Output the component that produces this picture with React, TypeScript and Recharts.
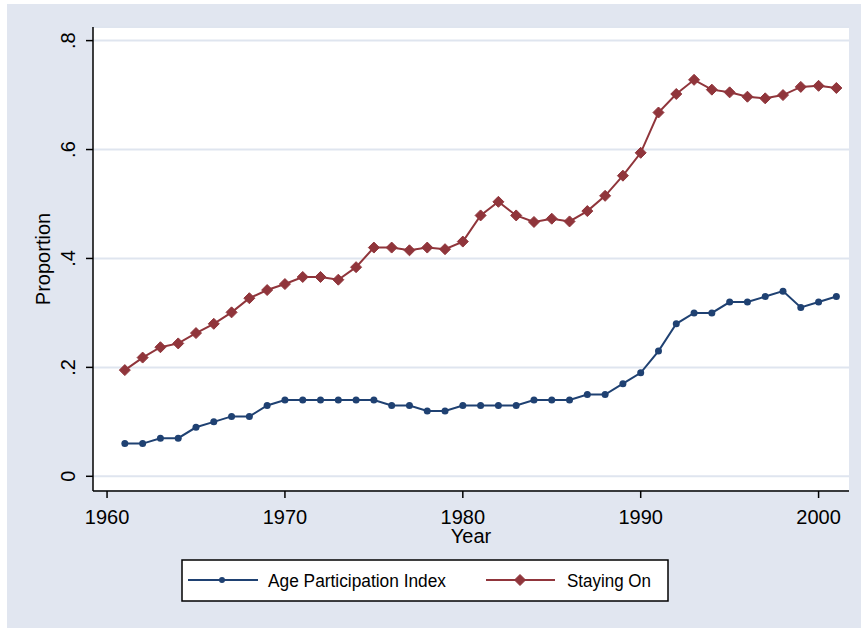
import { CartesianGrid, Line, LineChart, XAxis, YAxis } from "recharts";

const YEARS = [
  1961, 1962, 1963, 1964, 1965, 1966, 1967, 1968, 1969, 1970, 1971, 1972, 1973,
  1974, 1975, 1976, 1977, 1978, 1979, 1980, 1981, 1982, 1983, 1984, 1985, 1986,
  1987, 1988, 1989, 1990, 1991, 1992, 1993, 1994, 1995, 1996, 1997, 1998, 1999,
  2000, 2001,
];

const API = [
  0.06, 0.06, 0.07, 0.07, 0.09, 0.1, 0.11, 0.11, 0.13, 0.14, 0.14, 0.14, 0.14,
  0.14, 0.14, 0.13, 0.13, 0.12, 0.12, 0.13, 0.13, 0.13, 0.13, 0.14, 0.14, 0.14,
  0.15, 0.15, 0.17, 0.19, 0.23, 0.28, 0.3, 0.3, 0.32, 0.32, 0.33, 0.34, 0.31,
  0.32, 0.33,
];

const STAYING_ON = [
  0.195, 0.218, 0.237, 0.244, 0.263, 0.28, 0.301, 0.327, 0.342, 0.353, 0.366,
  0.366, 0.361, 0.384, 0.42, 0.42, 0.415, 0.42, 0.417, 0.431, 0.479, 0.504,
  0.479, 0.467, 0.473, 0.468, 0.487, 0.515, 0.552, 0.594, 0.668, 0.702, 0.728,
  0.71, 0.705, 0.697, 0.694, 0.7, 0.715, 0.717, 0.713,
];

const X_TICKS = [1960, 1970, 1980, 1990, 2000];
const Y_TICKS = [0, 0.2, 0.4, 0.6, 0.8];
const Y_TICK_LABELS = ["0", ".2", ".4", ".6", ".8"];

const SERIES = [
  { key: "api", name: "Age Participation Index", color: "#1f4172" },
  { key: "stay", name: "Staying On", color: "#90353b" },
];

const BG = "#e1e6f0";
const FONT = "'Liberation Sans', Arial, sans-serif";

const data = YEARS.map((year, i) => ({
  year,
  api: API[i],
  stay: STAYING_ON[i],
}));

function Diamond({ cx, cy, size = 5.5, color }: any) {
  if (cx == null || cy == null) return null;
  return (
    <polygon
      points={`${cx},${cy - size} ${cx + size},${cy} ${cx},${cy + size} ${cx - size},${cy}`}
      fill={color}
      stroke={color}
      strokeWidth={1}
    />
  );
}

function XTick({ x, y, payload }: any) {
  return (
    <text x={x} y={y + 24} textAnchor="middle" fontSize={20} fontFamily={FONT} fill="#000">
      {payload.value}
    </text>
  );
}

function YTick({ x, y, payload }: any) {
  const idx = Y_TICKS.indexOf(payload.value);
  const tx = x - 9;
  return (
    <text
      x={tx}
      y={y}
      textAnchor="middle"
      fontSize={20}
      fontFamily={FONT}
      fill="#000"
      transform={`rotate(-90, ${tx}, ${y})`}
    >
      {Y_TICK_LABELS[idx]}
    </text>
  );
}

function XTitle({ viewBox }: any) {
  return (
    <text
      x={viewBox.x + viewBox.width / 2}
      y={viewBox.y + 52}
      textAnchor="middle"
      fontSize={20}
      fontFamily={FONT}
      fill="#000"
    >
      Year
    </text>
  );
}

function YTitle({ viewBox }: any) {
  const tx = viewBox.x + 17;
  const ty = viewBox.y + viewBox.height / 2;
  return (
    <text
      x={tx}
      y={ty}
      textAnchor="middle"
      fontSize={20}
      fontFamily={FONT}
      fill="#000"
      transform={`rotate(-90, ${tx}, ${ty})`}
    >
      Proportion
    </text>
  );
}

function LegendBox() {
  return (
    <svg
      width={488}
      height={43}
      style={{ position: "absolute", left: 181, top: 559 }}
    >
      <rect x={1} y={1} width={486} height={41} fill="#fff" stroke="#000" strokeWidth={1.5} />
      <line x1={7} x2={77} y1={21} y2={21} stroke={SERIES[0].color} strokeWidth={2} />
      <circle cx={41} cy={21} r={3} fill={SERIES[0].color} />
      <text x={87} y={28} fontSize={17.5} fontFamily={FONT} fill="#000" textLength={178} lengthAdjust="spacingAndGlyphs">
        {SERIES[0].name}
      </text>
      <line x1={305} x2={374} y1={21} y2={21} stroke={SERIES[1].color} strokeWidth={2} />
      <Diamond cx={339} cy={21} size={5.5} color={SERIES[1].color} />
      <text x={386} y={28} fontSize={17.5} fontFamily={FONT} fill="#000" textLength={84} lengthAdjust="spacingAndGlyphs">
        {SERIES[1].name}
      </text>
    </svg>
  );
}

export default function App() {
  return (
    <div
      style={{
        position: "absolute",
        left: 0,
        top: 0,
        width: 861,
        height: 628,
        background: "#fff",
        overflow: "hidden",
      }}
    >
      <style>{"body{margin:0}"}</style>
      <div style={{ position: "absolute", left: 7, top: 4, right: 0, bottom: 0, background: BG }} />
      <div style={{ position: "absolute", left: 93, top: 27, width: 756, height: 464, background: "#fff" }} />
      <div style={{ position: "absolute", left: 0, top: 0 }}>
        <LineChart
          width={861}
          height={628}
          data={data}
          margin={{ top: 27, right: 12, bottom: 77, left: 33 }}
        >
          <CartesianGrid horizontal vertical={false} stroke="#dfe5ef" strokeWidth={2} />
          <XAxis
            dataKey="year"
            type="number"
            domain={[1959.21, 2001.71]}
            ticks={X_TICKS}
            allowDataOverflow
            height={60}
            tickSize={7}
            tickLine={{ stroke: "#000", strokeWidth: 1.5 }}
            axisLine={{ stroke: "#000", strokeWidth: 1.5 }}
            tick={<XTick />}
            label={<XTitle />}
          />
          <YAxis
            type="number"
            domain={[-0.027, 0.825]}
            ticks={Y_TICKS}
            allowDataOverflow
            width={60}
            tickSize={7}
            tickLine={{ stroke: "#000", strokeWidth: 1.5 }}
            axisLine={{ stroke: "#000", strokeWidth: 1.5 }}
            tick={<YTick />}
            label={<YTitle />}
          />
          <Line
            type="linear"
            dataKey="api"
            name={SERIES[0].name}
            stroke={SERIES[0].color}
            strokeWidth={2}
            dot={{ r: 3.5, fill: SERIES[0].color, stroke: SERIES[0].color, strokeWidth: 0 }}
            activeDot={false}
            isAnimationActive={false}
          />
          <Line
            type="linear"
            dataKey="stay"
            name={SERIES[1].name}
            stroke={SERIES[1].color}
            strokeWidth={2}
            dot={(p: any) => <Diamond key={p.index} cx={p.cx} cy={p.cy} color={SERIES[1].color} />}
            activeDot={false}
            isAnimationActive={false}
          />
        </LineChart>
      </div>
      <LegendBox />
    </div>
  );
}
